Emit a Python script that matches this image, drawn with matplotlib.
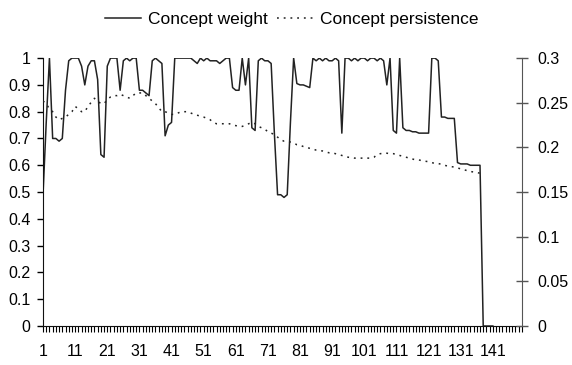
import numpy as np
import matplotlib
matplotlib.use("Agg")
import matplotlib.pyplot as plt

plt.rcParams['font.family'] = ['Liberation Sans', 'DejaVu Sans']

# concept weight, categories 1..141 (left axis)
weight = [
    0.49, 0.76, 1.00, 0.70, 0.70, 0.69, 0.70, 0.88, 0.99, 1.00,
    1.00, 1.00, 0.97, 0.90, 0.97, 0.99, 0.99, 0.92, 0.64, 0.63,
    0.97, 1.00, 1.00, 1.00, 0.88, 0.99, 1.00, 0.99, 1.00, 1.00,
    0.88, 0.88, 0.87, 0.86, 0.99, 1.00, 0.99, 0.98, 0.71, 0.75,
    0.76, 1.00, 1.00, 1.00, 1.00, 1.00, 1.00, 0.99, 0.98, 1.00,
    0.99, 1.00, 0.99, 0.99, 0.99, 0.98, 0.99, 1.00, 1.00, 0.89,
    0.88, 0.88, 1.00, 0.90, 1.00, 0.74, 0.73, 0.99, 1.00, 0.99,
    0.99, 0.98, 0.72, 0.49, 0.49, 0.48, 0.49, 0.76, 1.00, 0.905,
    0.90, 0.90, 0.895, 0.89, 1.00, 0.99, 1.00, 0.99, 1.00, 0.99,
    0.99, 1.00, 0.99, 0.72, 1.00, 1.00, 0.99, 1.00, 0.99, 1.00,
    1.00, 0.99, 1.00, 1.00, 0.99, 1.00, 0.99, 0.90, 1.00, 0.73,
    0.72, 1.00, 0.74, 0.73, 0.73, 0.725, 0.725, 0.72, 0.72, 0.72,
    0.72, 1.00, 1.00, 0.99, 0.78, 0.78, 0.775, 0.775, 0.775, 0.61,
    0.605, 0.605, 0.605, 0.60, 0.60, 0.60, 0.60, 0.0, 0.0, 0.0,
    0.0,
]

# concept persistence, categories 1..137 (right axis)
persistence = [
    0.252, 0.249, 0.243, 0.240, 0.234, 0.231, 0.2325, 0.234, 0.237, 0.240,
    0.246, 0.243, 0.240, 0.240, 0.246, 0.2505, 0.255, 0.252, 0.249, 0.249,
    0.2535, 0.2565, 0.258, 0.258, 0.2595, 0.258, 0.2565, 0.255, 0.258, 0.261,
    0.261, 0.261, 0.258, 0.255, 0.252, 0.249, 0.2445, 0.240, 0.240, 0.2385,
    0.237, 0.237, 0.2385, 0.240, 0.240, 0.240, 0.2385, 0.237, 0.236, 0.235,
    0.234, 0.2325, 0.231, 0.228, 0.2265, 0.2265, 0.2265, 0.2265, 0.2265, 0.225,
    0.2244, 0.2235, 0.2235, 0.225, 0.2265, 0.228, 0.2265, 0.2235, 0.222, 0.2205,
    0.2175, 0.216, 0.2145, 0.2115, 0.2085, 0.207, 0.207, 0.206, 0.205, 0.203,
    0.2025, 0.201, 0.200, 0.199, 0.198, 0.197, 0.1965, 0.196, 0.195, 0.194,
    0.194, 0.193, 0.192, 0.191, 0.190, 0.189, 0.1887, 0.188, 0.188, 0.188,
    0.188, 0.188, 0.188, 0.189, 0.192, 0.193, 0.1935, 0.1935, 0.193, 0.193,
    0.192, 0.191, 0.190, 0.189, 0.188, 0.187, 0.186, 0.186, 0.185, 0.1845,
    0.184, 0.183, 0.182, 0.182, 0.181, 0.180, 0.179, 0.1785, 0.178, 0.177,
    0.176, 0.175, 0.174, 0.173, 0.1725, 0.172, 0.171,
]

n_cats = 150
x_labels = list(range(1, 142, 10))
fs = 11.5

fig = plt.figure(figsize=(5.72, 3.65), dpi=100)
ax = fig.add_axes([0.0752, 0.1068, 0.837, 0.734])
ax2 = ax.twinx()

x_w = np.arange(1, len(weight) + 1)
x_p = np.arange(1, len(persistence) + 1)
l1, = ax.plot(x_w, weight, color='#222222', lw=1.1, label='Concept weight')
l2, = ax2.plot(x_p, persistence, color='#222222', lw=1.1,
               linestyle=(0, (1.2, 3.2)), label='Concept persistence')

ax.set_xlim(1, n_cats)
ax.set_ylim(0, 1)
ax2.set_ylim(0, 0.3)

ax.set_yticks(np.arange(0, 1.01, 0.1))
ax.set_yticklabels(['0' if v == 0 else ('1' if v == 1 else f'{v:.1f}')
                    for v in np.round(np.arange(0, 1.01, 0.1), 1)])
ax2.set_yticks(np.arange(0, 0.301, 0.05))
ax2.set_yticklabels(['0', '0.05', '0.1', '0.15', '0.2', '0.25', '0.3'])

ax.set_xticks(np.arange(1, n_cats + 1), minor=True)
ax.set_xticks(x_labels)
ax.set_xticklabels([str(v) for v in x_labels])

for s in ['top', 'right']:
    ax.spines[s].set_visible(False)
for s in ['top', 'left', 'bottom']:
    ax2.spines[s].set_visible(False)
ax.spines['left'].set_color('#111111')
ax.spines['bottom'].set_color('#111111')
ax2.spines['right'].set_color('#555555')

ax.tick_params(axis='y', direction='out', length=4, width=1, labelsize=fs, pad=5)
ax.tick_params(axis='x', which='both', direction='out', length=4, width=0.8,
               labelsize=fs, pad=9)
ax2.tick_params(axis='y', direction='inout', length=8, width=1, labelsize=fs,
                pad=7, color='#555555')

fig.legend(handles=[l1, l2], loc='upper center', bbox_to_anchor=(0.51, 1.01),
           ncol=2, frameon=False, fontsize=12.5, handlelength=2.1,
           columnspacing=0.5, handletextpad=0.4)

fig.savefig('out.png', dpi=100)
